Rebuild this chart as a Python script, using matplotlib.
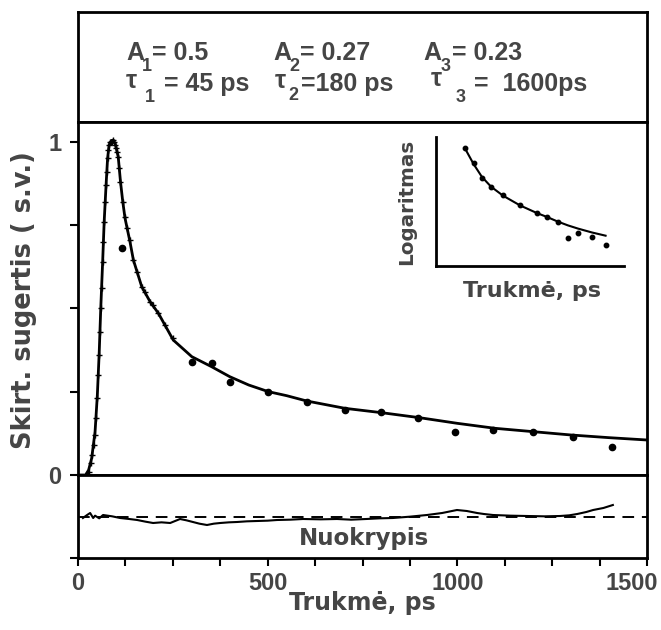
import matplotlib
matplotlib.use("Agg")
import matplotlib.pyplot as plt
from matplotlib.transforms import ScaledTranslation

plt.rcParams['font.family'] = ['Liberation Sans', 'DejaVu Sans']
plt.rcParams['font.weight'] = 'bold'

TXT = '#454545'
WIDE = ['DejaVu Sans', 'Liberation Sans']

# ---- data ----
fit_t = [0, 20, 28, 36, 45, 51, 56, 60, 65, 69, 74, 78, 82, 86, 92, 98, 106, 112, 118,
         124, 137, 146, 168, 190, 212, 251, 300, 352, 400, 450, 502, 550, 603, 704,
         800, 900, 1000, 1100, 1200, 1300, 1400, 1500]
fit_v = [0, 0, 0.015, 0.05, 0.13, 0.24, 0.37, 0.50, 0.64, 0.76, 0.87, 0.95, 0.99, 1.0,
         1.005, 0.995, 0.955, 0.88, 0.82, 0.77, 0.70, 0.645, 0.565, 0.52, 0.485, 0.405,
         0.355, 0.325, 0.295, 0.27, 0.25, 0.238, 0.222, 0.200, 0.187, 0.172, 0.155,
         0.140, 0.130, 0.120, 0.112, 0.105]

rise_t = [20, 26, 30, 34, 38, 42, 45, 48, 51, 54, 56, 58, 60, 62, 65, 67, 69, 72, 74,
          76, 78, 80, 82, 84, 86, 88, 90, 92, 95, 98, 100, 103, 106, 109, 112, 118,
          124, 130, 137, 146, 155, 168, 177, 190, 199, 212, 230, 251]
rise_v = [0.0, 0.0, 0.01, 0.035, 0.06, 0.09, 0.12, 0.17, 0.23, 0.30, 0.36, 0.43, 0.50,
          0.56, 0.64, 0.70, 0.76, 0.82, 0.87, 0.91, 0.95, 0.975, 0.99, 1.0, 1.0, 1.0,
          1.0, 1.005, 1.0, 0.99, 0.98, 0.97, 0.955, 0.92, 0.88, 0.82, 0.775, 0.74,
          0.705, 0.645, 0.61, 0.565, 0.55, 0.52, 0.51, 0.487, 0.45, 0.41]

pts_t = [115, 300, 352, 401, 502, 603, 704, 800, 897, 994, 1095, 1200, 1306, 1407]
pts_v = [0.68, 0.34, 0.335, 0.28, 0.25, 0.22, 0.195, 0.19, 0.17, 0.13, 0.135, 0.13,
         0.115, 0.085]

res_t = [13, 24, 32, 40, 45, 56, 66, 90, 111, 135, 156, 178, 198, 220, 243, 256, 269,
         286, 303, 320, 340, 358, 375, 398, 419, 445, 472, 500, 525, 560, 593, 640,
         683, 720, 760, 795, 830, 875, 920, 960, 999, 1025, 1052, 1070, 1094, 1140,
         1184, 1230, 1271, 1295, 1316, 1340, 1358, 1385, 1410]
res_v = [-0.003, 0.006, 0.012, -0.003, 0.004, -0.004, 0.006, 0.002, -0.003, -0.006,
         -0.009, -0.014, -0.018, -0.016, -0.018, -0.012, -0.006, -0.010, -0.015,
         -0.020, -0.024, -0.020, -0.018, -0.016, -0.015, -0.013, -0.012, -0.011,
         -0.009, -0.008, -0.006, -0.007, -0.006, -0.008, -0.006, -0.004, -0.003,
         0.001, 0.006, 0.012, 0.021, 0.018, 0.012, 0.009, 0.006, 0.004, 0.003, 0.002,
         0.003, 0.005, 0.009, 0.015, 0.021, 0.027, 0.036]

ins_t = [231, 300, 367, 439, 535, 670, 806, 886, 970, 1052, 1133, 1244, 1353]
ins_v = [0.912, 0.796, 0.680, 0.615, 0.550, 0.473, 0.408, 0.382, 0.343, 0.214, 0.253,
         0.227, 0.163]
ins_fit_t = [231, 300, 367, 439, 535, 670, 806, 886, 970, 1052, 1133, 1244, 1353]
ins_fit_v = [0.912, 0.79, 0.69, 0.615, 0.545, 0.47, 0.41, 0.38, 0.345, 0.315, 0.29,
             0.26, 0.235]

# parameter texts: (text, x px, baseline px, size)
param_pieces = [
    ('A', 126, 60, 18), ('1', 142, 71, 13), ('= 0.5', 152, 60, 18),
    ('A', 273, 60, 18), ('2', 289, 71, 13), ('= 0.27', 300, 60, 18),
    ('A', 423, 60, 18), ('3', 441, 71, 13), ('= 0.23', 452, 60, 18),
    ('τ', 126, 88, 18), ('1', 145, 102, 13), ('= 45 ps', 164, 91, 18),
    ('τ', 275, 88, 18), ('2', 288, 100, 13), ('=180 ps', 301, 91, 18),
    ('τ', 431, 86, 18), ('3', 456, 102, 13), ('=  1600ps', 474, 91, 18),
]

xticks_major = [0, 500, 1000, 1500]
xticks_minor = [125, 250, 375, 625, 750, 875, 1125, 1250, 1375]

# ---- figure ----
FW, FH = 661, 630
fig = plt.figure(figsize=(FW / 100, FH / 100), dpi=100)
L, W = 78 / FW, 569 / FW
LW = 2.0

ax_top = fig.add_axes([L, 1 - 122 / FH, W, 110 / FH])
ax = fig.add_axes([L, 1 - 475 / FH, W, 353 / FH])
axr = fig.add_axes([L, 1 - 558 / FH, W, 83 / FH])

for a in (ax_top, ax, axr):
    for s in a.spines.values():
        s.set_linewidth(LW)
        s.set_color('black')

ax_top.set_xticks([])
ax_top.set_yticks([])
for s, x, y, fs in param_pieces:
    fig.text(x / FW, 1 - y / FH, s, fontsize=fs, color=TXT, fontweight='bold',
             va='baseline', ha='left')

# main panel
ax.plot(fit_t, fit_v, color='black', lw=2.0, zorder=3)
ax.plot(rise_t, rise_v, ls='none', marker='+', ms=4, mew=1.0, color='black', zorder=4)
ax.plot(pts_t, pts_v, ls='none', marker='o', ms=4.5, color='black', zorder=4)
ax.set_xlim(0, 1500)
ax.set_ylim(0, 1.059)
ax.set_xticks([])
ax.set_yticks([0, 0.25, 0.5, 0.75, 1.0])
ax.set_yticklabels(['0', '', '', '', '1'])
ax.tick_params(axis='y', direction='out', length=6, width=1.5, labelsize=17,
               labelcolor=TXT, pad=6)
for lab in ax.get_yticklabels():
    lab.set_fontweight('bold')

# residual panel
axr.plot(res_t, res_v, color='black', lw=1.5)
axr.axhline(0, color='black', lw=1.4, dashes=(6, 4))
axr.set_xlim(0, 1500)
axr.set_ylim(-0.123, 0.126)
axr.set_yticks([-0.123])
axr.set_yticklabels([''])
axr.set_xticks(xticks_major)
axr.set_xticks(xticks_minor, minor=True)
axr.tick_params(axis='both', which='both', direction='out', length=6, width=1.5,
                labelsize=17, labelcolor=TXT, pad=4)
xlabs = axr.get_xticklabels()
for lab in xlabs:
    lab.set_fontweight('bold')
xlabs[-1].set_transform(xlabs[-1].get_transform() +
                        ScaledTranslation(-0.15, 0, fig.dpi_scale_trans))
axr.text(0.503, 0.23, 'Nuokrypis', transform=axr.transAxes, ha='center', va='center',
         fontsize=16.5, color=TXT, fontweight='bold', family=WIDE)

fig.text(L + W / 2, 1 - 603 / FH, 'Trukmė, ps', ha='center', va='center', fontsize=17,
         color=TXT, fontweight='bold', family=WIDE)
fig.text(24 / FW, 1 - 300 / FH, 'Skirt. sugertis ( s.v.)', rotation=90, ha='center',
         va='center', fontsize=18.5, color=TXT, fontweight='bold', family=WIDE)

# inset
ax_in = fig.add_axes([436 / FW, 1 - 266 / FH, 188 / FW, 129 / FH])
ax_in.patch.set_alpha(0)
for side in ('top', 'right'):
    ax_in.spines[side].set_visible(False)
for side in ('left', 'bottom'):
    ax_in.spines[side].set_linewidth(LW)
ax_in.set_xticks([])
ax_in.set_yticks([])
ax_in.set_xlim(0, 1500)
ax_in.set_ylim(0, 1)
ax_in.plot(ins_fit_t, ins_fit_v, color='black', lw=1.5)
ax_in.plot(ins_t, ins_v, ls='none', marker='o', ms=3.2, color='black')
ax_in.text(0.51, -0.19, 'Trukmė, ps', transform=ax_in.transAxes, ha='center',
           va='center', fontsize=16, color=TXT, fontweight='bold', family=WIDE)
ax_in.text(-0.158, 0.5, 'Logaritmas', transform=ax_in.transAxes, ha='center',
           va='center', rotation=90, fontsize=14.3, color=TXT, fontweight='bold',
           family=WIDE)

fig.savefig('out.png', dpi=100)
